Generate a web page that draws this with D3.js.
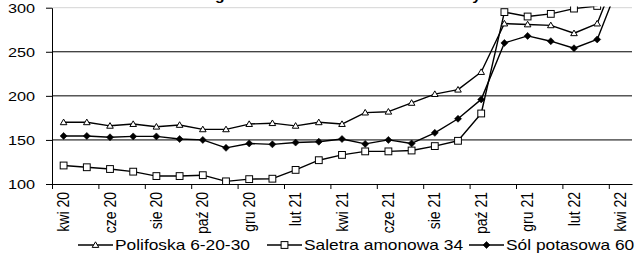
<!DOCTYPE html>
<html><head><meta charset="utf-8">
<script src="https://cdn.jsdelivr.net/npm/d3@7"></script>
<style>body{margin:0;background:#fff}svg text{font-family:"Liberation Sans",Arial,sans-serif;fill:#000}</style>
</head><body><svg id="c" width="644" height="254"></svg>
<script>
const months = ["kwi 20","maj 20","cze 20","lip 20","sie 20","wrz 20","paź 20","lis 20","gru 20","sty 21","lut 21","mar 21","kwi 21","maj 21","cze 21","lip 21","sie 21","wrz 21","paź 21","lis 21","gru 21","sty 22","lut 22","mar 22","kwi 22"];
const tickLabels = ["kwi 20","cze 20","sie 20","paź 20","gru 20","lut 21","kwi 21","cze 21","sie 21","paź 21","gru 21","lut 22","kwi 22"];
const polifoska = [170,170,166,168,165,167,162,162,168,169,166,170,168,181,182,192,202,207,227,282,281,280,271,282,348];
const saletra = [121,119,117,114,109,109,110,103,105.5,106,116,127,133,137,137,138,143,149,180,295,290,293,299,302,340];
const sol = [154.5,154.5,153,154,154,151,150,141,146,145,147,148,151,145.5,150,146,158,174,196,260,268,262,254,264,331];
const yTicks = [100,150,200,250,300];
const seriesNames = ["Polifoska 6-20-30","Saletra amonowa 34","Sól potasowa 60"];
const title = "Notowania targowiskowe cen nawozów mineralnych";

const svg = d3.select("#c");
const L = 52, R = 632, T = 7.7, B = 184;
const SX = 1.2;
const x = d3.scaleBand().domain(months).range([L, R]).padding(0);
const xi = d3.scaleLinear().domain([0, months.length]).range([L, R]);
const y = d3.scaleLinear().domain([100, 300]).range([B, T]);
const cx = m => x(m) + x.bandwidth() / 2;

// title (mostly above the visible area, as in the reference)
const tg = svg.append("g");
const tt = tg.append("text").attr("font-size", 13).attr("font-weight", "bold").attr("y", 0).text(title);
const gi = title.indexOf("g");
const gpos = tt.node().getStartPositionOfChar(gi).x + tt.node().getSubStringLength(gi, 1) / 2;
tg.attr("transform", `translate(${220 - gpos * SX},0) scale(${SX},1)`);

// gridlines
svg.append("g").selectAll("line").data(yTicks.filter(v => v > 100)).join("line")
  .attr("x1", L).attr("x2", R).attr("y1", d => y(d)).attr("y2", d => y(d))
  .attr("stroke", d => d === 300 ? "#d4d4d4" : "#000").attr("stroke-width", 1);

// y axis
const ya = svg.append("g").attr("transform", `translate(${L},0)`)
  .call(d3.axisLeft(y).tickValues(yTicks).tickSize(6).tickSizeOuter(0).tickPadding(0));
ya.select(".domain").attr("stroke", "#000");
ya.selectAll(".tick line").attr("stroke", "#000");
ya.selectAll(".tick text").attr("font-size", 13).attr("x", null).attr("dy", "0.35em")
  .attr("transform", `translate(-17,0) scale(1.25,1)`);

// x axis ticks at category boundaries
const xa = svg.append("g").attr("transform", `translate(0,${B})`)
  .call(d3.axisBottom(xi).tickValues(d3.range(0, months.length, 2)).tickSize(5).tickSizeOuter(0).tickFormat(""));
xa.select(".domain").attr("stroke", "#000");
xa.selectAll(".tick line").attr("stroke", "#000");

// x labels
const xl = svg.append("g").attr("transform", `translate(0,${B})`)
  .call(d3.axisBottom(x).tickValues(tickLabels).tickSize(0).tickSizeOuter(0));
xl.select(".domain").remove();
xl.selectAll(".tick text").attr("font-size", 14).attr("text-anchor", "end")
  .attr("x", 0).attr("y", 0).attr("dy", "0.35em")
  .attr("transform", `translate(0,8) scale(1.15,1) rotate(-90)`);

// clip
svg.append("clipPath").attr("id", "clip").append("rect")
  .attr("x", L).attr("y", T - 1.2).attr("width", R - L).attr("height", B - T + 1.2);

const plot = svg.append("g").attr("clip-path", "url(#clip)");
const line = d3.line().x((d, i) => cx(months[i])).y(d => y(d));
const all = [polifoska, saletra, sol];
const symbols = ["tri", "sq", "dia"];

function drawMarker(g, type, px, py) {
  if (type === "tri") {
    g.append("path").attr("d", `M${px},${py - 3.2}L${px + 3.3},${py + 2.4}L${px - 3.3},${py + 2.4}Z`)
      .attr("fill", "#fff").attr("stroke", "#000").attr("stroke-width", 1);
  } else if (type === "sq") {
    g.append("rect").attr("x", px - 3.4).attr("y", py - 3.4).attr("width", 6.8).attr("height", 6.8)
      .attr("fill", "#fff").attr("stroke", "#000").attr("stroke-width", 1);
  } else {
    g.append("path").attr("d", `M${px},${py - 3.5}L${px + 3.5},${py}L${px},${py + 3.5}L${px - 3.5},${py}Z`)
      .attr("fill", "#000").attr("stroke", "#000").attr("stroke-width", 0.6);
  }
}

all.forEach(s => {
  plot.append("path").datum(s).attr("d", line).attr("fill", "none")
    .attr("stroke", "#000").attr("stroke-width", 1.4).attr("stroke-linejoin", "round");
});
all.forEach((s, k) => {
  const g = plot.append("g");
  s.forEach((v, i) => drawMarker(g, symbols[k], cx(months[i]), y(v)));
});

// legend
const legX = [78, 267, 469];
const legY = 245;
const LS = 1.24;
seriesNames.forEach((n, k) => {
  const g = svg.append("g");
  g.append("line").attr("x1", legX[k]).attr("x2", legX[k] + 35).attr("y1", legY).attr("y2", legY)
    .attr("stroke", "#000").attr("stroke-width", 1.4);
  drawMarker(g, symbols[k], legX[k] + 17.5, legY);
  g.append("text").attr("font-size", 14).attr("dy", "0.35em")
    .attr("transform", `translate(${legX[k] + 37},${legY}) scale(${LS},1)`).text(n);
});
</script></body></html>
